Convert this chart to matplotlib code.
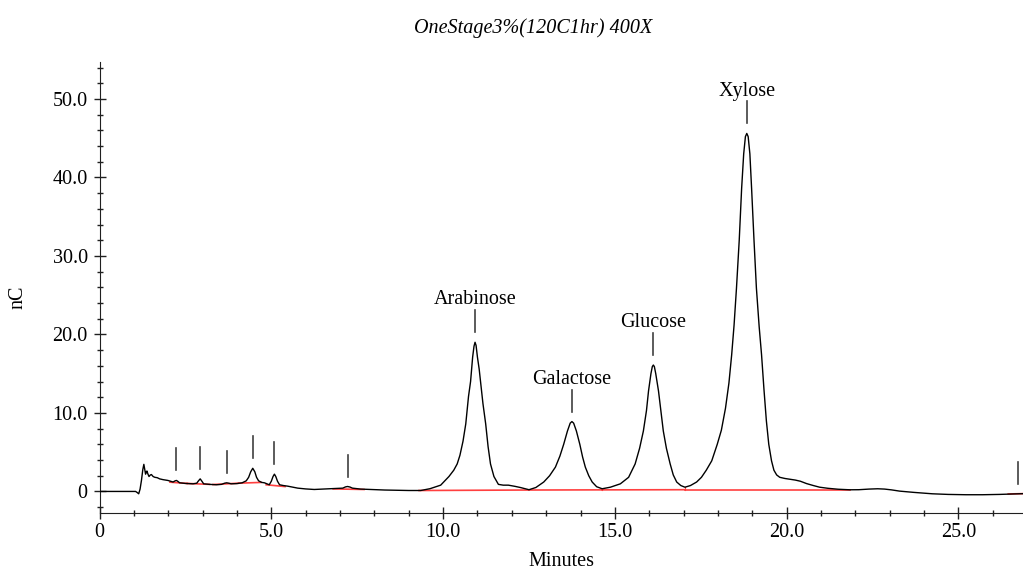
import matplotlib
matplotlib.use("Agg")
import matplotlib.pyplot as plt
from matplotlib.ticker import MultipleLocator, FuncFormatter

plt.rcParams['font.family'] = ['Liberation Serif', 'DejaVu Serif']

# trace: time (min), signal (nC)
t_min = [0.00, 1.05, 1.10, 1.14, 1.18, 1.22, 1.26, 1.29, 1.32, 1.34, 1.36, 1.38,
         1.41, 1.44, 1.48, 1.51, 1.56, 1.61, 1.68, 1.75, 1.85, 1.99, 2.07, 2.14,
         2.20, 2.24, 2.29, 2.33, 2.50, 2.72, 2.83, 2.88, 2.93, 2.98, 3.03, 3.20,
         3.40, 3.55, 3.64, 3.70, 3.76, 3.83, 4.00, 4.15, 4.27, 4.34, 4.40, 4.46,
         4.52, 4.57, 4.63, 4.72, 4.80, 4.88, 4.94, 5.00, 5.05, 5.09, 5.13, 5.18,
         5.24, 5.35, 5.48, 5.77, 6.00, 6.25, 6.50, 6.74, 6.90, 7.08, 7.16, 7.22,
         7.29, 7.36, 7.60, 7.90, 8.30, 8.60, 9.00, 9.35, 9.62, 9.93, 10.17, 10.31,
         10.41, 10.49, 10.58, 10.66, 10.74, 10.80, 10.86, 10.90, 10.93, 10.96,
         11.00, 11.05, 11.09, 11.16, 11.24, 11.31, 11.38, 11.48, 11.61, 11.75,
         11.90, 12.09, 12.25, 12.50, 12.70, 12.93, 13.10, 13.27, 13.40, 13.51,
         13.62, 13.70, 13.75, 13.80, 13.88, 13.98, 14.06, 14.14, 14.24, 14.34,
         14.47, 14.63, 14.87, 15.16, 15.40, 15.59, 15.72, 15.83, 15.92, 15.98,
         16.05, 16.09, 16.12, 16.15, 16.19, 16.27, 16.34, 16.41, 16.50, 16.61,
         16.70, 16.80, 16.92, 17.04, 17.20, 17.38, 17.52, 17.66, 17.82, 17.98,
         18.10, 18.22, 18.32, 18.40, 18.47, 18.54, 18.62, 18.69, 18.75, 18.80,
         18.84, 18.88, 18.93, 18.98, 19.05, 19.12, 19.20, 19.27, 19.34, 19.41,
         19.48, 19.56, 19.63, 19.71, 19.80, 19.95, 20.10, 20.25, 20.40, 20.58,
         20.77, 20.96, 21.20, 21.50, 21.84, 22.10, 22.40, 22.65, 22.85, 23.05,
         23.29, 23.70, 24.24, 24.70, 25.22, 25.70, 26.19, 26.50, 26.77, 26.90]
signal = [0.00, 0.00, -0.15, -0.30, 0.30, 1.40, 2.80, 3.45, 2.70, 2.20, 2.50, 2.60,
          2.20, 1.90, 2.10, 2.15, 1.90, 1.80, 1.75, 1.60, 1.50, 1.40, 1.30, 1.20,
          1.35, 1.40, 1.25, 1.10, 1.02, 0.97, 1.05, 1.35, 1.60, 1.30, 0.97, 0.90,
          0.85, 0.90, 1.05, 1.10, 1.05, 0.97, 1.00, 1.10, 1.35, 1.80, 2.50, 2.95,
          2.50, 1.80, 1.35, 1.15, 1.10, 0.95, 0.85, 1.30, 1.90, 2.20, 1.90, 1.30,
          0.85, 0.75, 0.67, 0.42, 0.32, 0.25, 0.30, 0.34, 0.38, 0.42, 0.58, 0.63,
          0.56, 0.42, 0.30, 0.25, 0.18, 0.15, 0.12, 0.12, 0.35, 0.80, 1.90, 2.70,
          3.50, 4.60, 6.40, 8.60, 12.10, 14.00, 17.10, 18.50, 19.00, 18.60,
          17.10, 15.60, 14.00, 11.20, 8.60, 5.70, 3.50, 1.90, 0.90, 0.80,
          0.80, 0.65, 0.50, 0.22, 0.50, 1.20, 2.00, 3.10, 4.50, 6.00,
          7.70, 8.70, 8.90, 8.70, 7.70, 6.00, 4.40, 3.10, 2.00, 1.20,
          0.60, 0.34, 0.54, 0.97, 1.80, 3.50, 5.50, 7.70, 10.30, 12.80,
          15.00, 15.90, 16.10, 15.90, 15.00, 12.80, 10.20, 7.70, 5.50, 3.50,
          2.10, 1.20, 0.75, 0.54, 0.75, 1.20, 1.80, 2.70, 3.90, 6.00,
          7.80, 10.60, 13.80, 17.40, 21.20, 25.90, 32.00, 38.60, 43.00, 45.20,
          45.60, 45.20, 43.00, 38.60, 32.00, 25.90, 21.00, 17.40, 13.00, 9.00,
          6.00, 3.90, 2.70, 2.10, 1.80, 1.65, 1.55, 1.45, 1.30, 1.00,
          0.76, 0.54, 0.40, 0.28, 0.21, 0.22, 0.30, 0.34, 0.30, 0.20,
          0.04, -0.12, -0.30, -0.38, -0.42, -0.42, -0.38, -0.34, -0.30, -0.28]

# detected peaks: apex time, apex height, name
peak_t = [2.24, 2.93, 3.72, 4.46, 5.09, 7.22, 10.93, 13.75, 16.12, 18.84, 26.74]
peak_h = [1.4, 1.6, 1.1, 2.95, 2.2, 0.63, 19.0, 8.9, 16.1, 45.6, -0.3]
peak_name = ["", "", "", "", "", "", "Arabinose", "Galactose", "Glucose", "Xylose", ""]

# integration baselines (pairs of points)
base_t = [(2.05, 2.55), (2.55, 3.20), (3.30, 4.05), (4.05, 4.70), (4.85, 5.40),
          (6.80, 7.70), (9.30, 12.50), (12.50, 14.63), (14.63, 17.04),
          (17.04, 21.85), (26.45, 26.88)]
base_y = [(1.18, 1.02), (1.02, 0.90), (0.88, 1.05), (1.05, 1.15), (0.85, 0.62),
          (0.32, 0.25), (0.12, 0.18), (0.18, 0.20), (0.20, 0.22),
          (0.22, 0.22), (-0.32, -0.28)]
drop_t = [12.50, 14.63, 17.04]
drop_y = [0.22, 0.34, 0.54]

fig = plt.figure(figsize=(10.23, 5.72), dpi=100)
ax = fig.add_axes([0.0973, 0.1031, 0.9027, 0.7885])

ax.plot(t_min, signal, color='black', lw=1.0, zorder=3)

for (t0, t1), (y0, y1) in zip(base_t, base_y):
    ax.plot([t0, t1], [y0, y1], color='#ff4040', lw=1.2, zorder=2)
for t, y in zip(drop_t, drop_y):
    ax.plot([t, t], [0.2, y], color='#ff4040', lw=0.8, zorder=2)

# peak marks and names
gap, mark_len = 1.27, 2.8
for t, h, name in zip(peak_t, peak_h, peak_name):
    ax.plot([t, t], [h + gap, h + gap + mark_len], color='#404040', lw=1.2)
    if name:
        ax.text(t, h + gap + mark_len + 0.75, name, ha='center', va='baseline',
                fontsize=14.5)

ax.set_xlim(0, 26.88)
ax.set_ylim(-2.75, 54.7)

for s in ['top', 'right']:
    ax.spines[s].set_visible(False)
ax.spines['left'].set_color('#202020')
ax.spines['bottom'].set_color('#202020')

ax.xaxis.set_major_locator(MultipleLocator(5))
ax.xaxis.set_minor_locator(MultipleLocator(1))
ax.yaxis.set_major_locator(MultipleLocator(10))
ax.yaxis.set_minor_locator(MultipleLocator(2))
fmt = FuncFormatter(lambda v, p: "0" if abs(v) < 1e-9 else "%.1f" % v)
ax.xaxis.set_major_formatter(fmt)
ax.yaxis.set_major_formatter(fmt)
ax.tick_params(which='major', direction='inout', length=9, width=1.0,
               labelsize=14.5, color='#202020')
ax.tick_params(which='minor', direction='inout', length=5, width=1.0,
               color='#202020')
ax.tick_params(axis='y', which='major', pad=4)
ax.tick_params(axis='x', which='major', pad=3)

fig.text(0.5215, 0.951, "OneStage3%(120C1hr) 400X", ha='center', va='center',
         style='italic', fontsize=14.5)
fig.text(0.549, 0.019, "Minutes", ha='center', va='center', fontsize=14.5)
fig.text(0.018, 0.481, "nC", ha='center', va='center', rotation=90, fontsize=14.5)

fig.savefig("out.png", dpi=100)
